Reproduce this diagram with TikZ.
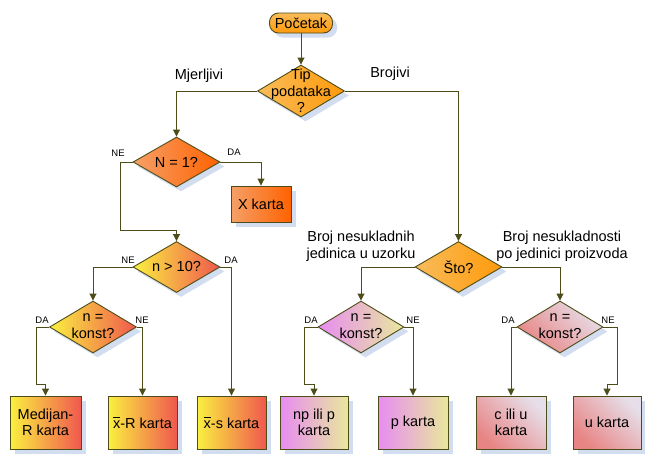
\documentclass[tikz,border=0pt]{standalone}
\usepackage{fontspec}
\setmainfont{Liberation Sans}
\usetikzlibrary{shapes.geometric,arrows.meta,shadows}
\definecolor{linec}{HTML}{4D4D19}
\definecolor{shadowc}{HTML}{D2DDF0}
\definecolor{orL}{HTML}{F9BC5A}
\definecolor{orR}{HTML}{FF9A0A}
\definecolor{roL}{HTML}{F5A068}
\definecolor{roR}{HTML}{FF6200}
\definecolor{yrL}{HTML}{FAF040}
\definecolor{yrR}{HTML}{F0584E}
\definecolor{vyL}{HTML}{E88CF2}
\definecolor{vyR}{HTML}{E8E89C}
\definecolor{pkT}{HTML}{E6DEE8}
\definecolor{pkM}{HTML}{E8989A}
\definecolor{pkB}{HTML}{E88484}
\newcommand{\xbarr}{\leavevmode\rlap{\rule[0.74em]{0.5em}{0.07em}}x}
\tikzset{
  every node/.style={font=\fontsize{14.5}{16.5}\selectfont},
  sh/.style={drop shadow={shadow xshift=4.5pt,shadow yshift=-4.5pt,fill=shadowc,opacity=1}},
  dia/.style={diamond,draw=linec,line width=0.9pt,minimum width=87pt,minimum height=52pt,inner sep=0pt,sh},
  boxx/.style={rectangle,draw=linec,line width=0.9pt,minimum width=70pt,minimum height=53pt,inner sep=0pt,align=center,sh},
  txt/.style={align=center,inner sep=0pt},
  small/.style={font=\fontsize{9.5}{11}\selectfont,inner sep=0pt},
  orangec/.style={left color=orL,right color=orR},
  redor/.style={left color=roL,right color=roR},
  yelred/.style={left color=yrL,right color=yrR},
  violyel/.style={left color=vyL,right color=vyR},
  pinkr/.style={top color=pkT,middle color=pkM,bottom color=pkB,shading angle=-45},
  arr/.style={draw=linec,line width=0.9pt,-{Triangle[length=7pt,width=7pt]}},
}
\begin{document}
\begin{tikzpicture}[x=1pt,y=-1pt]
\useasboundingbox (0,0) rectangle (645,461);
% top
\node[draw=linec,line width=0.9pt,rounded corners=9pt,minimum width=63pt,minimum height=20pt,inner sep=0pt,top color=orL,bottom color=orR,sh] (start) at (301,23) {Početak};
\node[dia,orangec] (tip) at (301,91) {};
\node[txt] (tipt) at (301,91) {Tip\\podataka\\?};
\node[txt] (mj) at (199,76) {Mjerljivi};
\node[txt] (br) at (390,74) {Brojivi};
% left branch
\node[dia,redor,minimum height=50pt] (n1) at (176.5,162) {};
\node[txt] (n1t) at (176.5,162) {N = 1?};
\node[boxx,redor,minimum width=60pt,minimum height=36pt] (xk) at (261,204) {X karta};
\node[small] (ne1) at (118,153) {NE};
\node[small] (da1) at (234,152) {DA};
\node[dia,yelred,minimum height=51pt] (n10) at (176.5,267) {};
\node[txt] (n10t) at (176.5,267) {n > 10?};
\node[small] (ne2) at (128,260) {NE};
\node[small] (da2) at (231,260) {DA};
\node[dia,yelred] (nk1) at (93,327) {};
\node[txt] (nk1t) at (93,326) {n =\\konst?};
\node[small] (da3) at (42,320) {DA};
\node[small] (ne3) at (142,320) {NE};
\node[boxx,yelred,minimum width=71pt] (med) at (45.5,422.5) {Medijan-\\R karta};
\node[boxx,yelred,minimum width=69pt] (xr) at (142.5,422.5) {\xbarr-R karta};
\node[boxx,yelred,minimum width=69pt] (xs) at (231.5,422.5) {\xbarr-s karta};
% right branch
\node[dia,orangec,minimum height=51pt] (sto) at (458.5,267) {};
\node[txt] (stot) at (458.5,267) {Što?};
\node[txt] (lbl1) at (361,246) {Broj nesukladnih\\jedinica u uzorku};
\node[txt] (lbl2) at (562,246) {Broj nesukladnosti\\po jedinici proizvoda};
\node[dia,violyel,minimum width=86pt] (nk2) at (361,327) {};
\node[txt] (nk2t) at (361,326) {n =\\konst?};
\node[small] (da4) at (311,320) {DA};
\node[small] (ne4) at (413,320) {NE};
\node[dia,pinkr,minimum width=86pt] (nk3) at (560,327) {};
\node[txt] (nk3t) at (560,326) {n =\\konst?};
\node[small] (da5) at (508,320) {DA};
\node[small] (ne5) at (608,320) {NE};
\node[boxx,violyel,minimum width=68pt] (np) at (314,422.5) {np ili p\\karta};
\node[boxx,violyel] (pk) at (413,422.5) {p karta};
\node[boxx,pinkr] (cu) at (511,422.5) {c ili u\\karta};
\node[boxx,pinkr,minimum width=68pt] (uk) at (607,422.5) {u karta};
% bend points
\coordinate (c1) at (120,230);
\coordinate (c2) at (36,384);
\coordinate (c3) at (304,384);
\coordinate (c4) at (617,384);
% connectors
\draw[arr] (start) -- (tip);
\draw[arr] (tip.west) -| (n1.north);
\draw[arr] (tip.east) -| (sto.north);
\draw[arr] (n1.east) -| (xk.north);
\draw[arr] (n1.west) -| (c1) -| (n10.north);
\draw[arr] (n10.west) -| (nk1.north);
\draw[arr] (n10.east) -| (xs.north);
\draw[arr] (nk1.west) -| (c2) -| (med.north);
\draw[arr] (nk1.east) -| (xr.north);
\draw[arr] (sto.west) -| (nk2.north);
\draw[arr] (sto.east) -| (nk3.north);
\draw[arr] (nk2.west) -| (c3) -| (np.north);
\draw[arr] (nk2.east) -| (pk.north);
\draw[arr] (nk3.west) -| (cu.north);
\draw[arr] (nk3.east) -| (c4) -| (uk.north);
\end{tikzpicture}
\end{document}
